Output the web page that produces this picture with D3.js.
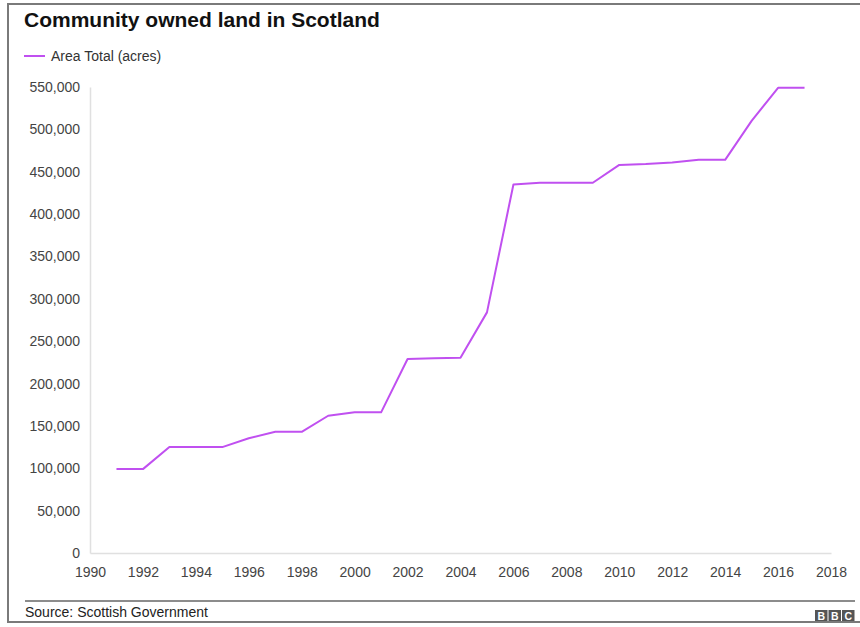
<!DOCTYPE html>
<html lang="en">
<head>
<meta charset="UTF-8">
<title>Community owned land in Scotland</title>
<script src="https://d3js.org/d3.v7.min.js"></script>
<style>
  body { margin: 0; background: #fff; }
  svg { display: block; font-family: "Liberation Sans", Arial, sans-serif; }
</style>
</head>
<body>
<div id="container"></div>
<script>
  // values
  var years = [1991, 1992, 1993, 1994, 1995, 1996, 1997, 1998, 1999, 2000, 2001, 2002, 2003, 2004,
               2005, 2006, 2007, 2008, 2009, 2010, 2011, 2012, 2013, 2014, 2015, 2016, 2017];
  var acres = [99000, 99000, 125000, 125000, 125000, 135500, 143000, 143000, 162000, 166000, 166000, 229000, 230000, 230500,
               284000, 435000, 437000, 437000, 437000, 458000, 459000, 461000, 464000, 464000, 510000, 549000, 549000];
  var xTicks = d3.range(1990, 2019, 2);
  var yTicks = d3.range(0, 550001, 50000);

  var data = years.map(function (y, i) { return { year: y, value: acres[i] }; });

  var width = 860, height = 627;
  var lineColor = "#c050f0";

  var svg = d3.select("#container").append("svg")
    .attr("width", width)
    .attr("height", height);

  // outer frame
  svg.append("rect")
    .attr("x", 8).attr("y", 4)
    .attr("width", 870).attr("height", 618)
    .attr("fill", "none")
    .attr("stroke", "#7a7a7a")
    .attr("stroke-width", 2);

  svg.append("text")
    .attr("x", 24).attr("y", 27)
    .attr("font-size", 21).attr("font-weight", "bold")
    .attr("fill", "#111")
    .text("Community owned land in Scotland");

  // legend
  svg.append("line")
    .attr("x1", 24).attr("x2", 45).attr("y1", 56).attr("y2", 56)
    .attr("stroke", lineColor).attr("stroke-width", 2);
  svg.append("text")
    .attr("x", 51).attr("y", 61)
    .attr("font-size", 14).attr("fill", "#333")
    .text("Area Total (acres)");

  var x = d3.scaleLinear().domain([1990, 2018]).range([90, 831]);
  var y = d3.scaleLinear().domain([0, 550000]).range([553, 87]);

  // axes
  var xAxis = svg.append("g")
    .attr("transform", "translate(0," + y(0) + ")")
    .call(d3.axisBottom(x).tickValues(xTicks).tickFormat(d3.format("d")).tickSize(0).tickPadding(14));
  xAxis.select(".domain").attr("stroke", "#e0e0e0").attr("stroke-width", 1.5);
  xAxis.selectAll("text").attr("font-size", 14).attr("fill", "#444")
    .attr("font-family", "Liberation Sans, Arial, sans-serif");

  var yAxis = svg.append("g")
    .attr("transform", "translate(" + x(1990) + ",0)")
    .call(d3.axisLeft(y).tickValues(yTicks).tickFormat(d3.format(",")).tickSize(0).tickPadding(10));
  yAxis.select(".domain").attr("stroke", "#e0e0e0").attr("stroke-width", 1.5);
  yAxis.selectAll("text").attr("font-size", 14).attr("fill", "#444")
    .attr("font-family", "Liberation Sans, Arial, sans-serif");

  // series
  svg.append("path")
    .datum(data)
    .attr("fill", "none")
    .attr("stroke", lineColor)
    .attr("stroke-width", 2)
    .attr("stroke-linejoin", "round")
    .attr("d", d3.line().x(function (d) { return x(d.year); }).y(function (d) { return y(d.value); }));

  // footer
  svg.append("line")
    .attr("x1", 25).attr("x2", 855).attr("y1", 601).attr("y2", 601)
    .attr("stroke", "#666").attr("stroke-width", 1.5);
  svg.append("text")
    .attr("x", 25).attr("y", 617)
    .attr("font-size", 14).attr("fill", "#222")
    .text("Source: Scottish Government");

  var logo = svg.append("g").attr("transform", "translate(815,610)");
  ["B", "B", "C"].forEach(function (ch, i) {
    logo.append("rect")
      .attr("x", i * 13.5).attr("y", 0)
      .attr("width", 12.5).attr("height", 11)
      .attr("fill", "#555");
    logo.append("text")
      .attr("x", i * 13.5 + 6.25).attr("y", 9.5)
      .attr("text-anchor", "middle")
      .attr("font-size", 10.5).attr("font-weight", "bold")
      .attr("fill", "#fff")
      .text(ch);
  });
</script>
</body>
</html>
